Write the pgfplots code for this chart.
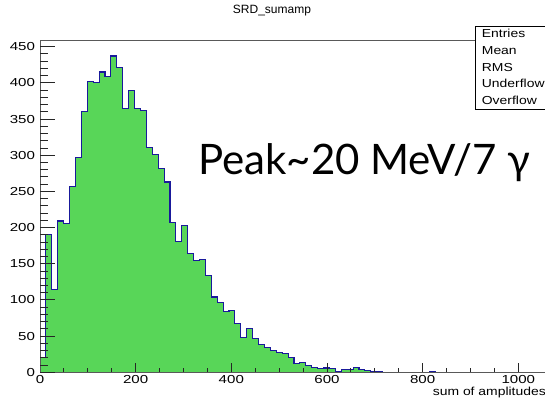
\documentclass[border=0pt]{standalone}
\usepackage{fontspec}
\usepackage{graphicx}
\usepackage{pgfplots}
\pgfplotsset{compat=1.18}
\setmainfont{Liberation Sans}
\newfontfamily\rootfont{Liberation Sans}
\newfontfamily\peakfont{Lato}
\definecolor{histfill}{RGB}{88,214,88}
\definecolor{histline}{RGB}{25,25,155}
\pgfplotstableread{
x y
0 20
12.35 191
24.7 115
37.05 209
49.4 205
61.75 257
74.1 297
86.45 360
98.8 402
111.15 401
123.5 415
135.85 409
148.2 437
160.55 421
172.9 365
185.25 390
197.6 364
209.95 362
222.3 311
234.65 301
247 281
259.35 263
271.7 207
284.05 181
296.4 203
308.75 164
321.1 154
333.45 156
345.8 134
358.15 104
370.5 97
382.85 84
395.2 85
407.55 68
419.9 48
432.25 61
444.6 47
456.95 39
469.3 34
481.65 30
494 27
506.35 26
518.7 21
531.05 12
543.4 14
555.75 9
568.1 7
580.45 5
592.8 6
605.15 5
617.5 1
629.85 4
642.2 4
654.55 7
666.9 4
679.25 3
691.6 1
703.95 1
716.3 0
728.65 0
741 0
753.35 0
765.7 0
778.05 0
790.4 0
802.75 0
815.1 1
827.45 0
839.8 0
}\histdata
\begin{document}
\begin{tikzpicture}
\useasboundingbox (0pt,0pt) rectangle (545pt,404pt);
\clip (0pt,0pt) rectangle (545pt,404pt);
\begin{axis}[
 at={(40pt,31.7pt)}, anchor=south west,
 scale only axis, width=507pt, height=331.3pt,
 xmin=0, xmax=1060, ymin=0, ymax=457.8,
 axis on top,
 axis line style={black!65, line width=1pt},
 xtick={0,200,...,1000}, minor x tick num=3,
 ytick=\empty,
 tick pos=left, tick align=inside,
 major tick length=9pt, minor tick length=4.5pt,
 tick style={black!85, line width=0.9pt},
 /pgf/number format/assume math mode=true,
 /pgf/number format/1000 sep={},
 xticklabel={\scalebox{1.3}[1]{\pgfmathprintnumber{\tick}}},
 x tick label style={font=\rootfont\fontsize{11.6}{12}\selectfont},
]
\addplot[const plot mark left, fill=histfill, draw=histline, line width=1.1pt] table {\histdata} \closedcycle;
\end{axis}
\begin{axis}[
 at={(40pt,31.7pt)}, anchor=south west,
 scale only axis, width=507pt, height=331.3pt,
 xmin=0, xmax=1060, ymin=0, ymax=457.8,
 axis line style={draw=none},
 xtick=\empty,
 ytick={0,50,...,450}, minor y tick num=4,
 tick pos=left, tick align=inside,
 major tick length=15pt, minor tick length=8pt,
 tick style={black!85, line width=0.9pt},
 /pgf/number format/assume math mode=true,
 /pgf/number format/1000 sep={},
 yticklabel={\scalebox{1.3}[1]{\pgfmathprintnumber{\tick}}},
 y tick label style={font=\rootfont\fontsize{11.6}{12}\selectfont, xshift=-1.5pt},
]
\end{axis}
\node[anchor=base east, inner sep=0pt, font=\rootfont\fontsize{11.6}{12}\selectfont] at (546pt,9pt) {\scalebox{1.2}[1]{sum of amplitudes}};
\node[anchor=base, inner sep=0pt, font=\rootfont\fontsize{12}{13}\selectfont] at (272pt,390pt) {SRD\_sumamp};
\draw[black, line width=0.8pt, fill=white] (475pt,295pt) rectangle (560pt,377.3pt);
\begin{scope}[every node/.style={anchor=base west, inner sep=0pt, font=\rootfont\fontsize{11.6}{12}\selectfont}]
\node at (481.7pt,366pt) {\scalebox{1.2}[1]{Entries}};
\node at (481.7pt,349.3pt) {\scalebox{1.2}[1]{Mean}};
\node at (481.7pt,332.7pt) {\scalebox{1.2}[1]{RMS}};
\node at (481.7pt,316pt) {\scalebox{1.2}[1]{Underflow}};
\node at (481.7pt,299.3pt) {\scalebox{1.2}[1]{Overflow}};
\end{scope}
\node[anchor=base west, inner sep=0pt, font=\peakfont\fontsize{42}{46}\selectfont] at (198pt,229pt) {Peak\textasciitilde 20 MeV/7 γ};
\end{tikzpicture}
\end{document}
